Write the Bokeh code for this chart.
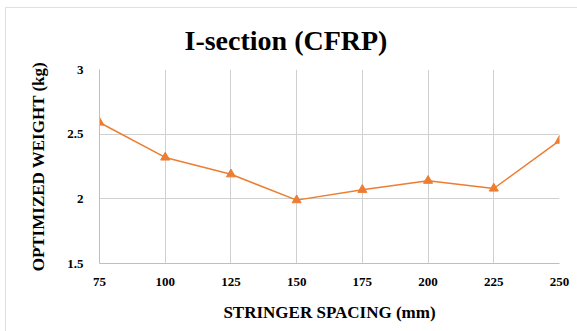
from bokeh.plotting import figure
from bokeh.embed import file_html
from bokeh.resources import INLINE
from bokeh.models import FixedTicker, Range1d, Title

spacing = [75, 100, 125, 150, 175, 200, 225, 250]
weight = [2.59, 2.32, 2.19, 1.99, 2.07, 2.14, 2.08, 2.45]
y_ticks = [1.5, 2, 2.5, 3]

W, H = 572, 324
p = figure(width=W, height=H, output_backend="svg", toolbar_location=None,
           x_range=Range1d(75, 250), y_range=Range1d(1.5, 3),
           min_border_left=93, min_border_right=19, min_border_top=61, min_border_bottom=69)
p.title = Title(text="I-section (CFRP)", align="left", offset=85,
                text_font="Liberation Serif", text_font_size="28px", text_font_style="bold",
                text_color="#000000", standoff=27)

p.line(spacing, weight, line_color="#ED7D31", line_width=1.5)
p.scatter(spacing, weight, marker="triangle", size=9, fill_color="#ED7D31", line_color="#ED7D31")

p.xaxis.ticker = FixedTicker(ticks=spacing)
p.yaxis.ticker = FixedTicker(ticks=y_ticks)
p.yaxis.major_label_overrides = {1.5: "1.5", 2: "2", 2.5: "2.5", 3: "3"}
p.xaxis.axis_label = "STRINGER SPACING (mm)"
p.yaxis.axis_label = "OPTIMIZED WEIGHT (kg)"
for ax in (p.xaxis, p.yaxis):
    ax.axis_label_text_font = "Liberation Serif"
    ax.axis_label_text_font_style = "bold"
    ax.axis_label_text_font_size = "17px"
    ax.axis_label_text_color = "#000000"
    ax.major_label_text_font = "Liberation Serif"
    ax.major_label_text_font_style = "bold"
    ax.major_label_text_font_size = "13px"
    ax.major_label_text_color = "#000000"
    ax.major_tick_line_color = None
    ax.minor_tick_line_color = None
    ax.axis_line_color = "#bfbfbf"
    ax.axis_line_width = 1
p.xaxis.major_label_standoff = 8
p.yaxis.major_label_standoff = 10
p.xaxis.axis_label_standoff = 14
p.yaxis.axis_label_standoff = 16

p.xgrid.grid_line_color = "#d0d0d0"
p.ygrid.grid_line_color = "#d0d0d0"
p.xgrid.grid_line_width = 1
p.ygrid.grid_line_width = 1
p.outline_line_color = None
p.background_fill_color = "white"
p.border_fill_color = "white"
p.styles = {"border-top": "1px solid #e0e0e0", "border-left": "1px solid #e0e0e0",
            "margin-top": "7px", "margin-left": "5px", "box-sizing": "border-box"}

open("out.html", "w").write(file_html(p, INLINE))
